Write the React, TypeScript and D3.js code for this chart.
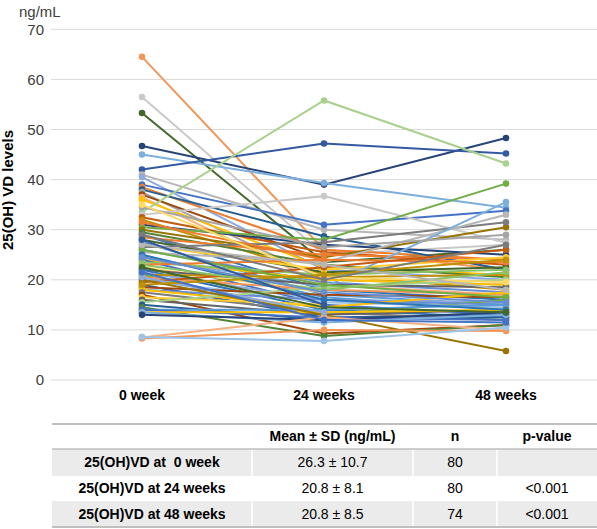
import React from "react";
import * as d3 from "d3";

const categories = ["0 week", "24 weeks", "48 weeks"];
const yTicks = [0, 10, 20, 30, 40, 50, 60, 70];

const week0 = [
  64.5, 56.5, 53.3, 46.7, 45.0, 42.0, 41.0, 40.5, 39.0, 38.5,
  38.0, 37.5, 37.0, 36.5, 36.0, 33.5, 33.0, 32.5, 32.0, 31.0,
  30.5, 30.0, 29.5, 29.0, 28.5, 28.0, 27.5, 27.0, 26.5, 26.0,
  25.5, 25.0, 24.5, 24.0, 24.0, 23.5, 23.0, 22.5, 22.0, 22.0,
  21.5, 21.0, 21.0, 20.5, 20.0, 19.5, 19.0, 18.5, 18.0, 18.0,
  17.5, 17.0, 16.5, 16.0, 15.5, 15.0, 14.5, 14.0, 14.0, 13.5,
  13.5, 13.0, 20.0, 8.5, 8.3, 8.6, 34.5, 31.5, 35.0, 26.0,
  25.0, 23.0, 22.5, 20.5, 19.0, 27.0, 24.5, 21.5, 29.0, 28.0,
];
const week24 = [
  26.0, 25.0, 23.5, 39.0, 39.3, 47.2, 30.0, 22.0, 31.0, 26.0,
  28.7, 20.0, 24.0, 19.0, 22.5, 55.8, 36.7, 25.5, 21.0, 27.0,
  28.0, 24.5, 23.0, 18.0, 25.0, 21.5, 17.0, 22.0, 27.5, 19.5,
  23.5, 16.5, 18.5, 20.0, 15.0, 21.0, 24.0, 17.5, 19.0, 14.0,
  16.0, 20.5, 13.0, 18.0, 15.5, 22.5, 12.5, 17.0, 16.0, 14.5,
  13.5, 9.3, 15.0, 13.0, 18.5, 12.0, 8.8, 14.0, 12.5, 13.5,
  11.5, 12.0, 13.0, 12.5, 10.0, 7.8, 26.5, 24.0, 20.5, 19.0,
  16.0, 18.0, 14.5, 13.5, 21.0, 23.0, 17.5, 12.0, 20.0, 15.0,
];
const week48: (number | null)[] = [
  22.0, 27.0, 26.0, 48.3, 34.4, 45.2, 28.0, 20.0, 33.8, 24.0,
  22.0, 19.0, null, 17.0, 21.0, 43.2, 27.4, 23.0, 18.0, 25.0,
  39.2, 30.5, 20.5, 16.0, 24.0, 22.5, 15.0, 24.5, 31.5, 17.5,
  33.0, 14.0, 35.5, 19.0, 13.0, 22.0, 23.5, null, 18.5, 12.5,
  15.5, 21.0, 16.0, 17.0, 14.5, 26.0, 13.0, 16.5, 15.0, 17.5,
  12.0, 11.0, null, 14.0, 20.0, 12.5, 11.0, 15.0, 12.0, 14.0,
  13.0, 13.5, 5.8, 10.0, 9.8, 10.5, 29.0, null, 19.5, 16.5,
  14.0, 21.5, 13.5, null, 24.0, 18.0, 15.5, 11.5, 27.0, null,
];

const tableHeader = ["", "Mean \u00b1 SD (ng/mL)", "n", "p-value"];
const rowLabels = ["25(OH)VD at  0 week", "25(OH)VD at 24 weeks", "25(OH)VD at 48 weeks"];
const meanSd = ["26.3 \u00b1 10.7", "20.8 \u00b1 8.1", "20.8 \u00b1 8.5"];
const nValues = ["80", "80", "74"];
const pValues = ["", "<0.001", "<0.001"];

const palette = [
  "#4472C4", "#ED7D31", "#A5A5A5", "#FFC000", "#5B9BD5", "#70AD47",
  "#264478", "#9E480E", "#636363", "#997300", "#255E91", "#43682B",
  "#698ED0", "#F1975A", "#B7B7B7", "#FFCD33", "#7CAFDD", "#8CC168",
  "#335AA1", "#C55A11", "#7C7C7C", "#BF9000", "#2E75B6", "#548235",
  "#8FAADC", "#F4B183", "#C9C9C9", "#FFD966", "#9DC3E6", "#A9D18E",
];
const colorIdx = [
  13, 26, 11, 6, 16, 18, 14, 24, 0, 1,
  10, 2, 7, 25, 3, 29, 26, 19, 21, 6,
  5, 9, 23, 22, 1, 11, 4, 15, 20, 12,
  14, 4, 16, 3, 0, 17, 1, 27, 8, 22,
  24, 21, 5, 13, 28, 19, 18, 7, 12, 3,
  20, 7, 15, 8, 29, 10, 23, 4, 0, 3,
  16, 6, 9, 25, 13, 28, 2, 1, 27, 5,
  22, 17, 11, 24, 21, 14, 12, 0, 20, 18,
];

const W = 597;
const H = 529;
const FONT = "'Liberation Sans', Arial, Helvetica, sans-serif";

export default function App() {
  const x = d3.scaleBand<string>().domain(categories).range([51, 597]).padding(0);
  const cx = (c: string) => (x(c) as number) + x.bandwidth() / 2;
  const y = d3.scaleLinear().domain([0, 70]).range([380, 29.3]);

  const series = week0.map((v, i) => [week0[i], week24[i], week48[i]]);
  const line = d3
    .line<number | null>()
    .defined((d) => d !== null)
    .x((_, j) => cx(categories[j]))
    .y((d) => y(d as number));

  const tLeft = 52;
  const tRight = 597;
  const colEdges = [tLeft, 252, 413, 497, tRight];
  const rowEdges = [424, 449, 476, 501, 527];
  const colCenter = (k: number) => (colEdges[k] + colEdges[k + 1]) / 2;
  const rows = rowLabels.map((l, i) => [l, meanSd[i], nValues[i], pValues[i]]);

  return (
    <svg
      width={W}
      height={H}
      style={{ position: "absolute", left: 0, top: 0, background: "#fff" }}
      fontFamily={FONT}
    >
      <rect width={W} height={H} fill="#fff" />
      {yTicks.map((t) => (
        <g key={t}>
          <line x1={51} x2={597} y1={y(t)} y2={y(t)} stroke="#d9d9d9" strokeWidth={1} />
          <text x={44} y={y(t)} dy="0.35em" textAnchor="end" fontSize={15} fill="#404040">
            {t}
          </text>
        </g>
      ))}
      <text x={19} y={17} fontSize={15} fill="#404040">
        ng/mL
      </text>
      <text
        transform={`translate(13, 190) rotate(-90)`}
        textAnchor="middle"
        fontSize={15}
        fontWeight="bold"
        fill="#000"
      >
        25(OH) VD levels
      </text>
      {categories.map((c) => (
        <text key={c} x={cx(c)} y={400} textAnchor="middle" fontSize={14} fontWeight="bold" fill="#000">
          {c}
        </text>
      ))}
      {series.map((s, i) => {
        const col = palette[colorIdx[i] % palette.length];
        return (
          <g key={i}>
            <path d={line(s) || ""} fill="none" stroke={col} strokeWidth={2} />
            {s.map((v, j) =>
              v === null ? null : (
                <circle key={j} cx={cx(categories[j])} cy={y(v)} r={3.3} fill={col} />
              )
            )}
          </g>
        );
      })}
      <rect x={tLeft} y={rowEdges[1]} width={tRight - tLeft} height={rowEdges[2] - rowEdges[1]} fill="#ebebeb" />
      <rect x={tLeft} y={rowEdges[3]} width={tRight - tLeft} height={rowEdges[4] - rowEdges[3]} fill="#ebebeb" />
      {[1, 3].map((r) =>
        colEdges.slice(1, 4).map((cxE) => (
          <line key={`${r}-${cxE}`} x1={cxE} x2={cxE} y1={rowEdges[r]} y2={rowEdges[r + 1]} stroke="#fff" strokeWidth={1.5} />
        ))
      )}
      <line x1={tLeft} x2={tRight} y1={rowEdges[0]} y2={rowEdges[0]} stroke="#bfbfbf" strokeWidth={2} />
      <line x1={tLeft} x2={tRight} y1={rowEdges[1]} y2={rowEdges[1]} stroke="#bfbfbf" strokeWidth={1.5} />
      <line x1={tLeft} x2={tRight} y1={rowEdges[4]} y2={rowEdges[4]} stroke="#bfbfbf" strokeWidth={2} />
      {tableHeader.map((h, k) => (
        <text key={k} x={colCenter(k)} y={(rowEdges[0] + rowEdges[1]) / 2} dy="0.35em" textAnchor="middle" fontSize={14} fontWeight="bold" fill="#000">
          {h}
        </text>
      ))}
      {rows.map((r, i) =>
        r.map((v, k) => (
          <text
            key={`${i}-${k}`}
            x={colCenter(k)}
            y={(rowEdges[i + 1] + rowEdges[i + 2]) / 2}
            dy="0.35em"
            textAnchor="middle"
            fontSize={14}
            fontWeight={k === 0 ? "bold" : "normal"}
            fill="#000"
            style={{ whiteSpace: "pre" }}
          >
            {v}
          </text>
        ))
      )}
    </svg>
  );
}
